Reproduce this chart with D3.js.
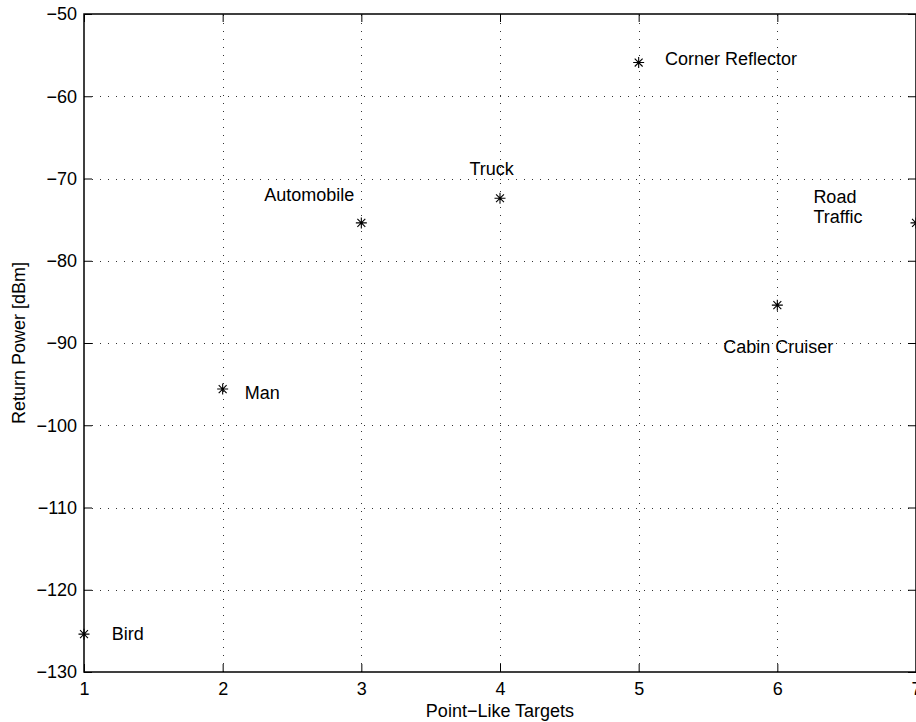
<!DOCTYPE html>
<html>
<head>
<meta charset="utf-8">
<script src="https://cdn.jsdelivr.net/npm/d3@7"></script>
<style>
  html, body { margin: 0; padding: 0; background: #fff; overflow: hidden; }
  svg { display: block; font-family: "Liberation Sans", Arial, Helvetica, sans-serif; }
</style>
</head>
<body>
<svg id="chart" width="916" height="722"></svg>
<script>
// Radar return power of typical point-like targets
const targets   = ["Bird", "Man", "Automobile", "Truck", "Corner Reflector", "Cabin Cruiser", "Road Traffic"];
const targetIdx = [1, 2, 3, 4, 5, 6, 7];
const powerDbm  = [-125.4, -95.6, -75.4, -72.4, -55.9, -85.4, -75.4];

// Annotation anchors in data units (left edge, vertical middle); one entry per text line
const labelLines = ["Bird", "Man", "Automobile", "Truck", "Corner Reflector", "Cabin Cruiser", "Road", "Traffic"];
const labelX     = [1.2, 2.16, 2.3, 3.78, 5.19, 5.61, 6.26, 6.26];
const labelY     = [-125.4, -96.1, -72.0, -68.8, -55.4, -90.4, -72.2, -74.6];

const xTicks = [1, 2, 3, 4, 5, 6, 7];
const yTicks = [-130, -120, -110, -100, -90, -80, -70, -60, -50];

const svg = d3.select("#chart");
const plotL = 84, plotR = 916, plotT = 14, plotB = 672;
const fontSize = 18;

const x = d3.scaleLinear().domain([1, 7]).range([plotL, plotR]);
const y = d3.scaleLinear().domain([-130, -50]).range([plotB, plotT]);

const fmt = v => String(v).replace("-", "\u2212");

// dotted grid
const grid = svg.append("g").attr("stroke", "#333").attr("stroke-width", 1)
  .attr("stroke-dasharray", "1,7");
grid.selectAll("line.gx").data(xTicks.slice(1, -1)).join("line")
  .attr("x1", d => Math.round(x(d)) + 0.5).attr("x2", d => Math.round(x(d)) + 0.5)
  .attr("y1", plotB).attr("y2", plotT);
grid.selectAll("line.gy").data(yTicks.slice(1, -1)).join("line")
  .attr("x1", plotL).attr("x2", plotR)
  .attr("y1", d => Math.round(y(d)) + 0.5).attr("y2", d => Math.round(y(d)) + 0.5);

// axes with inward ticks on all four sides
const tickLen = 8;
const axB = d3.axisBottom(x).tickValues(xTicks).tickSize(-tickLen).tickPadding(10).tickFormat(fmt);
const axT = d3.axisTop(x).tickValues(xTicks).tickSize(-tickLen).tickFormat("");
const axL = d3.axisLeft(y).tickValues(yTicks).tickSize(-tickLen).tickPadding(7).tickFormat(fmt);
const axR = d3.axisRight(y).tickValues(yTicks).tickSize(-tickLen).tickFormat("");

function style(g) {
  g.select(".domain").remove();
  g.selectAll(".tick line").attr("stroke", "#000").attr("stroke-width", 1);
  g.selectAll(".tick text").attr("fill", "#000").attr("font-size", fontSize)
    .attr("font-family", "Liberation Sans, Arial, sans-serif");
}
svg.append("g").attr("transform", `translate(0,${plotB})`).call(axB).call(style);
svg.append("g").attr("transform", `translate(0,${plotT})`).call(axT).call(style);
svg.append("g").attr("transform", `translate(${plotL},0)`).call(axL).call(style);
svg.append("g").attr("transform", `translate(${plotR},0)`).call(axR).call(style);

// frame
svg.append("rect").attr("x", plotL).attr("y", plotT)
  .attr("width", plotR - plotL).attr("height", plotB - plotT)
  .attr("fill", "none").attr("stroke", "#000").attr("stroke-width", 1.5);

// star markers
const r = 5.5, rd = r * 0.72;
const starPath = `M${-r},0L${r},0M0,${-r}L0,${r}M${-rd},${-rd}L${rd},${rd}M${-rd},${rd}L${rd},${-rd}`;
svg.append("g").selectAll("path").data(targetIdx).join("path")
  .attr("transform", (d, i) => `translate(${x(d)},${y(powerDbm[i])})`)
  .attr("d", starPath).attr("fill", "none").attr("stroke", "#000").attr("stroke-width", 1.1);

// annotations
svg.append("g").selectAll("text").data(labelLines).join("text")
  .attr("x", (d, i) => x(labelX[i])).attr("y", (d, i) => y(labelY[i]))
  .attr("dy", "0.35em").attr("font-size", fontSize).attr("fill", "#000")
  .text(d => d);

// axis titles
svg.append("text").attr("x", (plotL + plotR) / 2).attr("y", 717)
  .attr("text-anchor", "middle").attr("font-size", fontSize)
  .text("Point\u2212Like Targets");
svg.append("text").attr("transform", `translate(25,${(plotT + plotB) / 2}) rotate(-90)`)
  .attr("text-anchor", "middle").attr("font-size", fontSize)
  .text("Return Power [dBm]");
</script>
</body>
</html>
